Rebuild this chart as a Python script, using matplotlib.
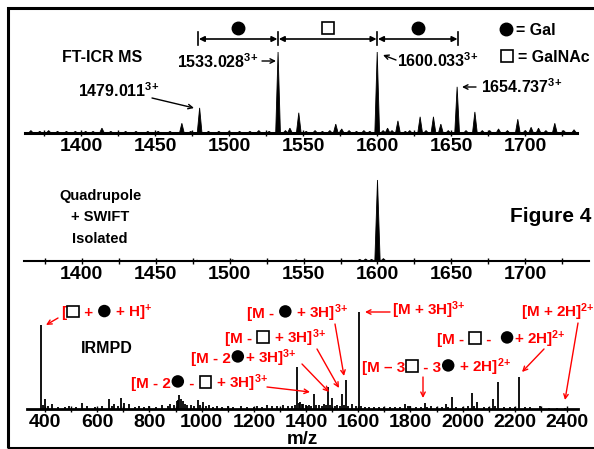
import matplotlib
matplotlib.use("Agg")
import matplotlib.pyplot as plt
import matplotlib.transforms as mtransforms
from matplotlib.offsetbox import TextArea, DrawingArea, HPacker, AnnotationBbox
from matplotlib.patches import Circle, Rectangle
from matplotlib.ticker import MultipleLocator

plt.rcParams['font.family'] = ['Liberation Sans', 'DejaVu Sans']
plt.rcParams['font.weight'] = 'bold'
plt.rcParams['mathtext.fontset'] = 'custom'
plt.rcParams['mathtext.rm'] = 'Liberation Sans:bold'
plt.rcParams['mathtext.bf'] = 'Liberation Sans:bold'
plt.rcParams['mathtext.it'] = 'Liberation Sans:bold'
plt.rcParams['mathtext.default'] = 'bf'

# ---------------- data ----------------
# FT-ICR MS panel (m/z, relative intensity %)
ft_mz = [1366, 1372, 1378, 1384, 1390, 1396, 1403, 1408, 1414, 1420, 1430, 1437, 1445,
         1452, 1460, 1468, 1474, 1480, 1486, 1493, 1500, 1507, 1514, 1520, 1527, 1533,
         1538, 1541, 1547, 1552, 1558, 1563, 1568, 1572, 1576, 1581, 1586, 1591, 1595,
         1600, 1604, 1607, 1610, 1614, 1619, 1622, 1629, 1633, 1638, 1643, 1648, 1654,
         1660, 1666, 1671, 1676, 1682, 1688, 1695, 1700, 1704, 1709, 1714, 1720, 1726, 1733]
ft_int = [3, 2, 3, 2, 2, 2, 2, 2, 6, 2, 2, 2, 2,
          2, 2, 12, 2, 31, 2, 2, 2, 2, 2, 3, 2, 100,
          3, 6, 25, 2, 3, 2, 3, 11, 5, 3, 2, 3, 2,
          100, 3, 6, 3, 15, 2, 3, 20, 3, 20, 11, 3, 57,
          3, 26, 3, 3, 5, 3, 17, 3, 7, 6, 3, 12, 3, 4]
ft_label_mz = [1479.011, 1533.028, 1600.033, 1654.737]
ft_label_charge = ['3{+}', '3{+}', '3{+}', '3{+}']
residue_symbols = ['C', 'S', 'C']   # C = Gal (filled circle), S = GalNAc (open square)

# Quadrupole + SWIFT isolated panel
iso_mz = [1478, 1502, 1545, 1588, 1592, 1596, 1600, 1604]
iso_int = [1, 1.5, 1.5, 2, 2.5, 2, 100, 3]

# IRMPD panel
ir_mz = [385, 392, 401, 410, 427, 450, 475, 492, 520, 542, 560, 590, 620, 646, 655, 665,
         680, 692, 704, 723, 745, 760, 780, 800, 825, 850, 870, 880, 895, 904, 910, 915,
         920, 927, 935, 945, 960, 970, 985, 995, 1004, 1015, 1030, 1045, 1060, 1080, 1100,
         1120, 1150, 1175, 1200, 1212, 1230, 1250, 1270, 1290, 1312, 1330, 1345, 1357, 1365,
         1372, 1377, 1383, 1390, 1398, 1405, 1412, 1420, 1431, 1440, 1450, 1460, 1470, 1478,
         1485, 1491, 1500, 1510, 1520, 1530, 1538, 1545, 1554, 1562, 1575, 1590, 1604, 1612,
         1625, 1640, 1660, 1680, 1700, 1720, 1740, 1760, 1781, 1790, 1800, 1820, 1840, 1854,
         1863, 1877, 1900, 1920, 1938, 1945, 1958, 1975, 2000, 2020, 2037, 2045, 2056, 2080,
         2100, 2117, 2125, 2136, 2160, 2180, 2200, 2217, 2240, 2260, 2297, 2330, 2360, 2393]
ir_int = [87, 4, 10, 3, 5, 2, 2, 3, 2, 6, 3, 2, 3, 10, 3, 5,
          3, 11, 6, 5, 2, 3, 2, 3, 2, 4, 3, 5, 4, 8, 9, 14,
          10, 8, 5, 4, 4, 3, 9, 4, 7, 3, 4, 2, 3, 2, 3,
          2, 3, 2, 2, 3, 2, 4, 3, 3, 4, 3, 3, 4, 43,
          6, 7, 5, 5, 4, 3, 4, 3, 15, 4, 4, 3, 5, 4,
          23, 4, 11, 3, 4, 3, 15, 4, 30, 3, 5, 3, 100, 3,
          2, 2, 2, 2, 2, 2, 2, 2, 5, 3, 3, 2, 2, 6,
          2, 3, 2, 2, 5, 2, 12, 2, 2, 3, 16, 3, 7, 2,
          2, 10, 3, 28, 2, 2, 2, 33, 2, 2, 3, 1, 1, 1]

# IRMPD annotations: label parts, text position (px), arrow start (px), arrow end (px)
ir_labels = [
    (["[", "S", " + ", "C", " + H]$^{{+}}$"], (61, 313), (58, 318), (46, 325)),
    (["[M - ", "C", " + 3H]$^{3{+}}$"], (247, 313), (335, 324), (344, 376)),
    (["[M + 3H]$^{3{+}}$"], (392, 310), (390, 312), (365, 312)),
    (["[M - ", "S", " + 3H]$^{3{+}}$"], (225, 338), (317, 349), (339, 388)),
    (["[M - 2", "C", "+ 3H]$^{3{+}}$"], (191, 358), (302, 364), (329, 392)),
    (["[M - 2", "C", " - ", "S", " + 3H]$^{3{+}}$"], (131, 383), (267, 387), (310, 392)),
    (["[M \u2013 3", "S", " - 3", "C", " + 2H]$^{2{+}}$"], (362, 367), (423, 377), (423, 398)),
    (["[M - ", "S", " -  ", "C", "+ 2H]$^{2{+}}$"], (437, 339), (544, 349), (522, 372)),
    (["[M + 2H]$^{2{+}}$"], (521, 312), (578, 323), (565, 400)),
]

# ---------------- figure ----------------
W, H = 594, 449
fig = plt.figure(figsize=(W / 100, H / 100), dpi=100)
RED = '#ff0000'


def ax_at(x0, x1, ytop, ybase):
    return fig.add_axes([x0 / W, 1 - ybase / H, (x1 - x0) / W, (ybase - ytop) / H])


def style(ax, xlim, ylim, major, minor, fs, lw):
    ax.set_xlim(*xlim)
    ax.set_ylim(*ylim)
    for s in ['top', 'left', 'right']:
        ax.spines[s].set_visible(False)
    ax.spines['bottom'].set_linewidth(lw)
    ax.set_yticks([])
    ax.patch.set_alpha(0)
    ax.xaxis.set_major_locator(MultipleLocator(major))
    ax.xaxis.set_minor_locator(MultipleLocator(minor))
    ax.tick_params(axis='x', which='both', direction='inout', length=5, width=1,
                   labelsize=fs, pad=1)


# Panel 1: FT-ICR
ax1 = ax_at(25, 577, 40, 133)
style(ax1, (1362, 1735), (0, 100 * 93 / 81), 50, 25, 14, 2.2)
for m, h in zip(ft_mz, ft_int):
    ax1.fill([m - 1.6, m, m + 1.6], [0, h, 0], color='black', lw=0.6)

# Panel 2: isolated
ax2 = ax_at(24, 589, 170, 261)
style(ax2, (1361, 1743), (0, 100 * 91 / 81), 50, 25, 14, 1.5)
for m, h in zip(iso_mz, iso_int):
    ax2.fill([m - 1.8, m, m + 1.8], [0, h, 0], color='black', lw=0.6)

# Panel 3: IRMPD
ax3 = ax_at(27, 578, 300, 409)
style(ax3, (331, 2442), (0, 100 * 109 / 97), 200, 100, 14, 2.0)
ax3.vlines(ir_mz, 0, ir_int, color='black', lw=1.3)

# ---------- helpers ----------
def sym(kind):
    da = DrawingArea(10, 10, 0, 0)
    if kind == 'C':
        da.add_artist(Circle((5, 4.6), 4.5, fc='black', ec='black', lw=0))
    else:
        da.add_artist(Rectangle((0.8, 0.2), 8.4, 8.4, fc='white', ec='black', lw=1.2))
    return da


def rich(parts, x, y, color=RED, fs=11):
    kids = []
    for p in parts:
        if p in ('C', 'S'):
            kids.append(sym(p))
        else:
            kids.append(TextArea(p, textprops=dict(color=color, fontsize=fs, fontweight='bold')))
    box = HPacker(children=kids, align='baseline', pad=0, sep=0)
    ab = AnnotationBbox(box, (x, H - y), xycoords='figure pixels', box_alignment=(0, 0.5),
                        frameon=False, pad=0, annotation_clip=False)
    fig.add_artist(ab)


def arrow(x0, y0, x1, y1, color='black', lw=1.0, ms=8):
    ax3.annotate('', xy=(x1, H - y1), xycoords='figure pixels',
                 xytext=(x0, H - y0), textcoords='figure pixels',
                 arrowprops=dict(arrowstyle='->', color=color, lw=lw, shrinkA=0, shrinkB=0,
                                 mutation_scale=ms), annotation_clip=False)


def ftext(x, y, s, **kw):
    fig.text(x / W, 1 - y / H, s, **kw)


# ---------- panel 1 annotations ----------
ftext(62, 62, 'FT-ICR MS', fontsize=11.5, va='baseline', ha='left')
lab_pos = [(78, 97, 'left'), (258, 68, 'right'), (397, 67, 'left'), (481, 93, 'left')]
for m, c, (x, y, ha) in zip(ft_label_mz, ft_label_charge, lab_pos):
    ftext(x, y, f'{m:.3f}$^{{{c}}}$', fontsize=11.5, va='baseline', ha=ha)
arrow(152, 98, 194, 108)
arrow(262, 61, 276, 61)
arrow(396, 60, 383, 55)
arrow(476, 87, 462, 87)

T1 = mtransforms.blended_transform_factory(ax1.transData, mtransforms.IdentityTransform())
for m in ft_label_mz:
    ax1.plot([m, m], [H - 32, H - 45], transform=T1, color='black', lw=1.2, clip_on=False)
for a, b, s in zip(ft_label_mz[:-1], ft_label_mz[1:], residue_symbols):
    ax1.annotate('', xy=(b, H - 39), xycoords=T1, xytext=(a, H - 39), textcoords=T1,
                 arrowprops=dict(arrowstyle='<|-|>', color='black', lw=1.2, mutation_scale=8,
                                 shrinkA=0.5, shrinkB=0.5), annotation_clip=False)
    if s == 'C':
        ax1.plot([(a + b) / 2], [H - 28], transform=T1, marker='o', ms=9, color='black',
                 clip_on=False)
    else:
        ax1.plot([(a + b) / 2], [H - 28], transform=T1, marker='s', ms=9, mfc='white',
                 mec='black', mew=1.2, clip_on=False)

# legend
fig.lines.append(plt.Line2D([506 / W], [1 - 29 / H], marker='o', ms=9, color='black',
                            transform=fig.transFigure))
fig.lines.append(plt.Line2D([507 / W], [1 - 56 / H], marker='s', ms=9, mfc='white',
                            mec='black', mew=1.2, transform=fig.transFigure))
ftext(516, 35, '= Gal', fontsize=11.5, va='baseline')
ftext(518, 62, '= GalNAc', fontsize=11.5, va='baseline')

# ---------- panel 2 annotations ----------
ftext(100, 200, 'Quadrupole', fontsize=10.5, ha='center', va='baseline')
ftext(100, 221, '+ SWIFT', fontsize=10.5, ha='center', va='baseline')
ftext(100, 243, 'Isolated', fontsize=10.5, ha='center', va='baseline')
ftext(510, 222, 'Figure 4', fontsize=15, ha='left', va='baseline')

# ---------- panel 3 annotations ----------
ftext(81, 353, 'IRMPD', fontsize=11.5, va='baseline')
for parts, (tx, ty), (ax0, ay0), (ax1_, ay1) in ir_labels:
    rich(parts, tx, ty)
    arrow(ax0, ay0, ax1_, ay1, color=RED)
ftext(302, 444, 'm/z', fontsize=13.5, ha='center', va='baseline')

# frame
fig.patches.append(Rectangle((8 / W, 1 - 447.5 / H), 600 / W, 439.5 / H,
                             transform=fig.transFigure, fill=False, ec='black', lw=2.2))

fig.savefig('out.png', dpi=100)
